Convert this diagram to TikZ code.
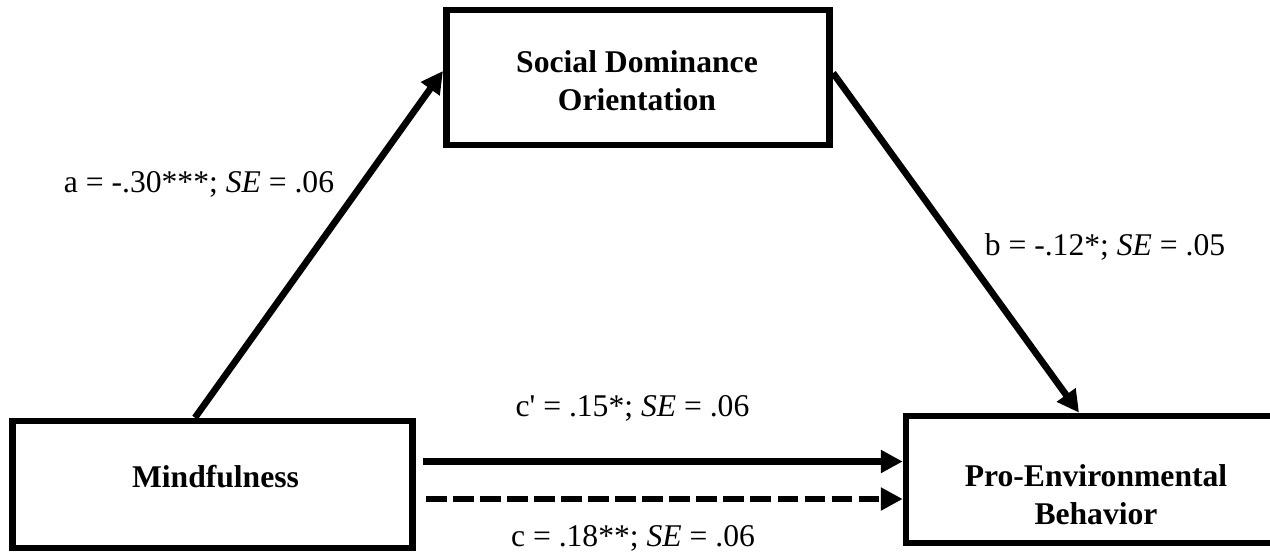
\documentclass[tikz,border=0pt]{standalone}
\usepackage{fontspec}
\setmainfont{Liberation Serif}
\usetikzlibrary{arrows.meta,calc}

\begin{document}
\begin{tikzpicture}[x=0.02cm, y=-0.02cm,
  box/.style={draw, line width=3.8pt, inner sep=0pt},
  boxtext/.style={font=\fontsize{18}{21.6}\selectfont\bfseries, align=center},
  arr/.style={line width=3.8pt, -{Triangle[length=12.5pt, width=12.5pt]}},
  coef/.style={font=\fontsize{18}{21.6}\selectfont, anchor=base}]
  \useasboundingbox (0,0) rectangle (1270,551);
  \node[box, minimum width=8cm,    minimum height=2.54cm] (mind) at (212.5,484.5) {};
  \node[box, minimum width=7.67cm, minimum height=2.7cm]  (sdo)  at (638,77.5) {};
  \node[box, minimum width=7.6cm,  minimum height=2.54cm] (peb)  at (1096,479.5) {};
  \node[boxtext, anchor=base] (mindtxt) at (215.5,487) {Mindfulness};
  \node[boxtext] (sdotxt)  at (637,81) {Social Dominance\\Orientation};
  \node[boxtext] (pebtxt)  at (1096,495) {Pro-Environmental\\Behavior};
  \draw[arr] ($(mind.north)+(-17.5,0)$) -- ($(sdo.west)+(0,-6.5)$);
  \draw[arr] ($(sdo.east)+(0,-4.5)$) -- ($(peb.north)+(-17,0)$);
  \draw[arr] ($(mind.east)+(7,-23)$) -- ($(peb.west)+(0,-18)$);
  \draw[arr, dash pattern=on 11.8pt off 3.6pt] ($(mind.east)+(10,14.5)$) -- ($(peb.west)+(0,19.5)$);
  \node[coef] (alab)  at (199,192) {a = -.30***; \textit{SE} = .06};
  \node[coef] (blab)  at (1105,255) {b = -.12*; \textit{SE} = .05};
  \node[coef] (cplab) at (632.5,416) {c\textquotesingle{} = .15*; \textit{SE} = .06};
  \node[coef] (clab)  at (633,546) {c = .18**; \textit{SE} = .06};
\end{tikzpicture}
\end{document}
